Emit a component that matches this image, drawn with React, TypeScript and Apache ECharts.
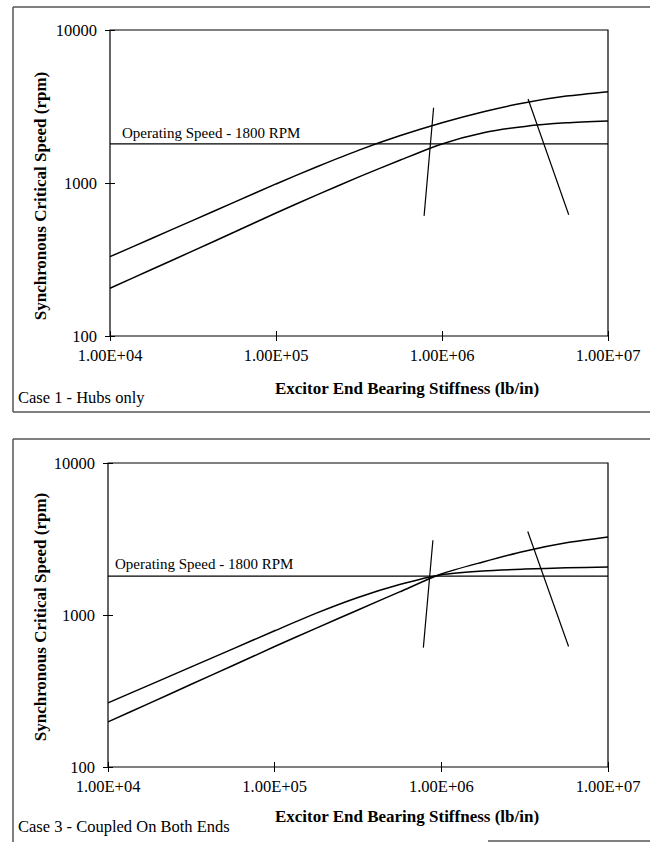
import React, { useEffect, useRef } from 'react';
import * as echarts from 'echarts';

// Excitor end bearing stiffness (lb/in), quarter-decade steps
const stiffness = [1e4, 1.78e4, 3.16e4, 5.62e4, 1e5, 1.78e5, 3.16e5, 5.62e5, 1e6, 1.78e6, 3.16e6, 5.62e6, 1e7];

// Case 1 - Hubs only (rpm)
const case1Upper = [330, 434, 570, 750, 986, 1282, 1641, 2042, 2477, 2924, 3350, 3698, 3954];
const case1Lower = [205, 272, 360, 478, 637, 840, 1096, 1413, 1800, 2128, 2344, 2472, 2540];

// Case 3 - Coupled on both ends (rpm)
const case3A = [264, 347, 456, 599, 787, 1028, 1303, 1585, 1841, 1950, 2004, 2042, 2070];
const case3B = [198, 263, 350, 465, 620, 820, 1079, 1419, 1862, 2234, 2630, 2985, 3260];

const operatingSpeed = 1800;
const operatingSpan = [1e4, 1e7];

// bearing-stiffness marker lines [stiffness, rpm]
const marker1 = [[8.9e5, 3100], [7.8e5, 610]];
const marker2 = [[3.3e6, 3540], [5.8e6, 620]];

const xTickLabels = ['1.00E+04', '1.00E+05', '1.00E+06', '1.00E+07'];
const yTickLabels = ['100', '1000', '10000'];

const FONT = "'Liberation Serif', 'Times New Roman', serif";

const pair = (xs: number[], ys: number[]) => xs.map((x, i) => [x, ys[i]]);

export default function App() {
  const ref = useRef<HTMLDivElement>(null);
  useEffect(() => {
    if (!ref.current) return;
    const chart = echarts.init(ref.current, undefined, { renderer: 'svg' });

    const xAxisCfg = (gridIndex: number) => ({
      type: 'log',
      logBase: 10,
      gridIndex,
      min: 1e4,
      max: 1e7,
      offset: -5,
      axisLine: { show: false, onZero: false },
      axisTick: { show: true, length: 10, lineStyle: { color: '#000', width: 1 } },
      axisLabel: {
        margin: 16,
        color: '#000',
        fontSize: 16.5,
        fontFamily: FONT,
        formatter: (v: number) => xTickLabels[Math.round(Math.log10(v)) - 4] ?? '',
      },
      splitLine: { show: false },
      minorTick: { show: false },
    });
    const yAxisCfg = (gridIndex: number) => ({
      type: 'log',
      logBase: 10,
      gridIndex,
      min: 100,
      max: 10000,
      offset: -5,
      axisLine: { show: false, onZero: false },
      axisTick: { show: true, length: 10, lineStyle: { color: '#000', width: 1 } },
      axisLabel: {
        margin: 18,
        color: '#000',
        fontSize: 16.5,
        fontFamily: FONT,
        formatter: (v: number) => yTickLabels[Math.round(Math.log10(v)) - 2] ?? '',
      },
      splitLine: { show: false },
      minorTick: { show: false },
    });

    const lineSeries = (data: number[][], g: number, width = 1.5) => ({
      type: 'line',
      xAxisIndex: g,
      yAxisIndex: g,
      data,
      symbol: 'none',
      showSymbol: false,
      smooth: 0.25,
      lineStyle: { color: '#000', width },
      silent: true,
    });
    const straight = (data: number[][], g: number, width = 1.2) => ({
      type: 'line',
      xAxisIndex: g,
      yAxisIndex: g,
      data,
      symbol: 'none',
      showSymbol: false,
      lineStyle: { color: '#000', width },
      silent: true,
    });

    const opLine = operatingSpan.map((x) => [x, operatingSpeed]);

    const frame = '#555';
    const text = (x: number, y: number, t: string, opts: any = {}) => ({
      type: 'text',
      x,
      y,
      rotation: opts.rotation || 0,
      style: {
        text: t,
        fill: '#000',
        font: `${opts.bold ? 'bold ' : ''}${opts.size || 16.5}px ${FONT}`,
        align: opts.align || 'left',
        verticalAlign: 'middle',
      },
    });
    const ln = (x1: number, y1: number, x2: number, y2: number) => ({
      type: 'line',
      shape: { x1, y1, x2, y2 },
      style: { stroke: frame, lineWidth: 1.5 },
    });

    chart.setOption({
      animation: false,
      backgroundColor: '#fff',
      grid: [
        { left: 110, top: 30, width: 498, height: 306, show: true, borderColor: '#000', borderWidth: 1.2, backgroundColor: 'transparent' },
        { left: 108, top: 463, width: 500, height: 304, show: true, borderColor: '#000', borderWidth: 1.2, backgroundColor: 'transparent' },
      ],
      xAxis: [xAxisCfg(0), xAxisCfg(1)],
      yAxis: [yAxisCfg(0), yAxisCfg(1)],
      series: [
        lineSeries(pair(stiffness, case1Upper), 0),
        lineSeries(pair(stiffness, case1Lower), 0),
        straight(opLine, 0),
        straight(marker1, 0),
        straight(marker2, 0),
        lineSeries(pair(stiffness, case3A), 1),
        lineSeries(pair(stiffness, case3B), 1),
        straight(opLine, 1),
        straight(marker1, 1),
        straight(marker2, 1),
      ],
      graphic: [
        // chart 1 frame
        ln(13, 7, 650, 7),
        ln(13, 7, 13, 412),
        ln(13, 412, 650, 412),
        // chart 2 frame
        ln(13, 439, 650, 439),
        ln(13, 439, 13, 842),
        ln(488, 841, 650, 841),
        // chart 1 texts
        text(122, 133, 'Operating Speed - 1800 RPM', { size: 15 }),
        text(40, 196, 'Synchronous Critical Speed (rpm)', { bold: true, size: 17, align: 'center', rotation: Math.PI / 2 }),
        text(407, 388, 'Excitor End Bearing Stiffness (lb/in)', { bold: true, size: 17, align: 'center' }),
        text(18, 397, 'Case 1 - Hubs only'),
        // chart 2 texts
        text(115, 564, 'Operating Speed - 1800 RPM', { size: 15 }),
        text(40, 617, 'Synchronous Critical Speed (rpm)', { bold: true, size: 17, align: 'center', rotation: Math.PI / 2 }),
        text(407, 816, 'Excitor End Bearing Stiffness (lb/in)', { bold: true, size: 17, align: 'center' }),
        text(18, 826, 'Case 3 - Coupled On Both Ends'),
      ],
    });
    return () => chart.dispose();
  }, []);
  return (
    <div
      ref={ref}
      style={{ position: 'absolute', left: 0, top: 0, width: 650, height: 842 }}
    />
  );
}
